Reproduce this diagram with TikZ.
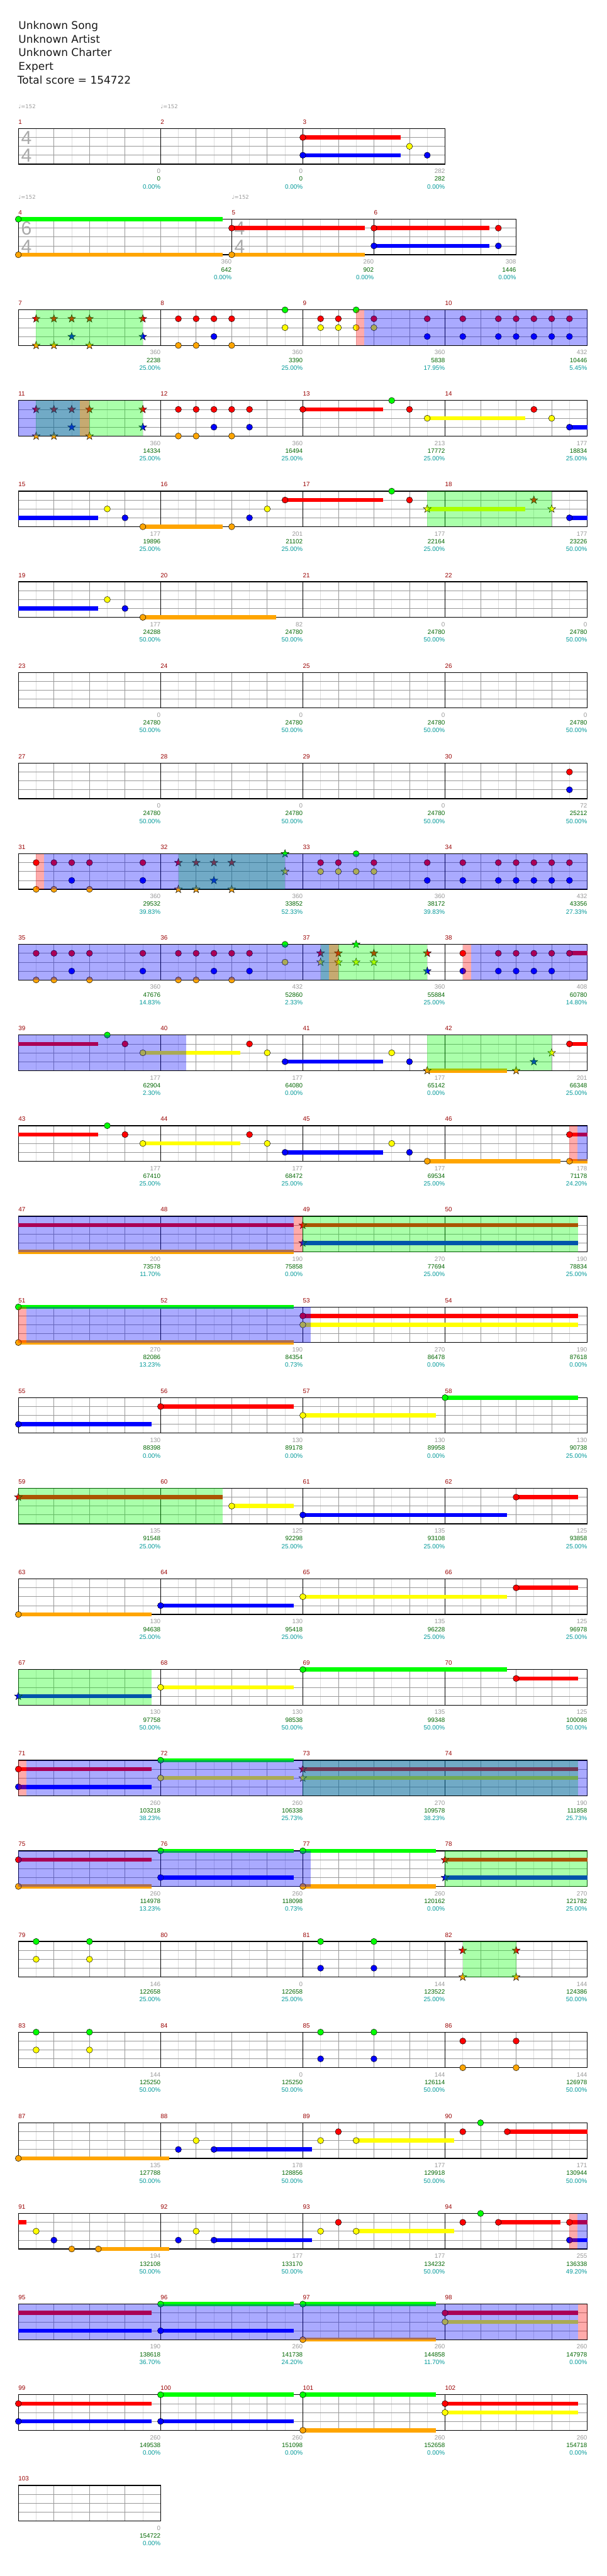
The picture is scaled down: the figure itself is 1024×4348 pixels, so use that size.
\documentclass[tikz,border=0pt]{standalone}
\usepackage{fontspec}
\setmainfont{Liberation Sans}
\newfontfamily\dvs{DejaVu Sans}
\definecolor{gG}{HTML}{00FF00}
\definecolor{gR}{HTML}{FF0000}
\definecolor{gY}{HTML}{FFFF00}
\definecolor{gB}{HTML}{0000FF}
\definecolor{gO}{HTML}{FFA500}
\definecolor{lgr}{HTML}{DDDDDD}
\definecolor{mgr}{HTML}{999999}
\definecolor{mred}{HTML}{990000}
\definecolor{sgreen}{HTML}{006600}
\definecolor{pteal}{HTML}{009999}
\definecolor{tsg}{HTML}{AAAAAA}
\tikzset{
 lgrid/.style={draw=lgr, line width=0.8pt},
 bgrid/.style={draw=mgr, line width=0.8pt},
 mline/.style={draw=black, line width=0.8pt},
 border/.style={draw=black, line width=1.4pt},
 notec/.style={draw=black, line width=0.5pt},
 susbar/.style={line width=7pt},
 cnt/.style={anchor=east, inner sep=0pt, text=mgr, font=\fontsize{10.5}{12}\selectfont},
 scr/.style={anchor=east, inner sep=0pt, text=sgreen, font=\fontsize{10.5}{12}\selectfont},
 pct/.style={anchor=east, inner sep=0pt, text=pteal, font=\fontsize{10.5}{12}\selectfont},
 mnum/.style={anchor=west, inner sep=0pt, text=mred, font=\fontsize{10.5}{12}\selectfont},
 tempo/.style={anchor=west, inner sep=0pt, text=mgr, font=\dvs\fontsize{9}{11}\selectfont},
 tsig/.style={inner sep=0pt, text=tsg, font=\fontsize{32}{34}\selectfont},
 title/.style={anchor=base west, inner sep=0pt, text=black!90, font=\dvs\fontsize{18}{22}\selectfont},
}
\newenvironment{GRow}[1]{\begin{scope}[xshift=31pt,yshift=-\the\numexpr217+153*#1\relax pt,x=60pt,y=-15pt]}{\end{scope}}
\newcommand\GGrid[2]{%
 \pgfmathtruncatemacro\GHn{2*#1}%
 \foreach \i in {1,...,\GHn}{\draw[lgrid] (\i/2,0) -- (\i/2,4);}%
 \foreach \i in {1,...,#1}{\draw[bgrid] (\i,0) -- (\i,4);}%
 \foreach \l in {1,2,3}{\draw[bgrid] (0,\l) -- (#1,\l);}%
 \foreach \m in {#2}{\draw[mline] (\m,0) -- (\m,4);}%
 \draw[border] (0,0) rectangle (#1,4);}
\newcommand\GFour[4]{\GGrid{16}{4,8,12}\GMeas{#1}{0}\GMeas{#2}{4}\GMeas{#3}{8}\GMeas{#4}{12}}
\newcommand\GNote[3]{\draw[notec, fill=#3] (#1,#2) circle[radius=5.2pt];}
\newcommand\GSus[4]{\draw[susbar, draw=#4] (#1,#3) -- (#2,#3);}
\newcommand\GStar[3]{\begin{scope}[shift={(#1,#2)}]\draw[notec, fill=#3] (90:7pt) -- (126:2.8pt) -- (162:7pt) -- (198:2.8pt) -- (234:7pt) -- (270:2.8pt) -- (306:7pt) -- (342:2.8pt) -- (18:7pt) -- (54:2.8pt) -- cycle;\end{scope}}
\newcommand\GOver[3]{\fill[#3, fill opacity=0.333] (#1,0) rectangle (#2,4);}
\newcommand\GMeas[2]{\node[mnum] (m#1) at (#2,-0.74) {#1};}
\newcommand\GLab[5]{\node[cnt] (c#1) at (#2,4.8) {#3};\node[scr] (s#1) at (#2,5.667) {#4};\node[pct] (p#1) at (#2,6.533) {#5\%};}
\newcommand\GTempo[2]{\node[tempo] (tp#1) at (#2,-2.467) {♩=152};}
\newcommand\GTime[4]{\node[tsig] (tsa#1) at (#2+0.225,1.05) {#3};\node[tsig] (tsb#1) at (#2+0.225,3.05) {#4};}
% chord helpers
\newcommand\RO[1]{\GNote{#1}{1}{gR}\GNote{#1}{4}{gO}}
\newcommand\RB[1]{\GNote{#1}{1}{gR}\GNote{#1}{3}{gB}}
\newcommand\RY[1]{\GNote{#1}{1}{gR}\GNote{#1}{2}{gY}}
\newcommand\GYc[1]{\GNote{#1}{0}{gG}\GNote{#1}{2}{gY}}
\newcommand\SRO[1]{\GStar{#1}{1}{gR}\GStar{#1}{4}{gO}}
\newcommand\SRB[1]{\GStar{#1}{1}{gR}\GStar{#1}{3}{gB}}
\newcommand\SRY[1]{\GStar{#1}{1}{gR}\GStar{#1}{2}{gY}}
\begin{document}
\begin{tikzpicture}
\fill[white] (0pt,0pt) rectangle (1024pt,-4348pt);
\useasboundingbox (0pt,0pt) rectangle (1024pt,-4348pt);
\node[title] (t1) at (31pt,-49.3pt) {Unknown Song};
\node[title] (t2) at (31pt,-72.5pt) {Unknown Artist};
\node[title] (t3) at (31pt,-95.5pt) {Unknown Charter};
\node[title] (t4) at (31pt,-118.4pt) {Expert};
\node[title] (t5) at (29.5pt,-141.4pt) {Total score = 154722};
% ---------- row 0
\begin{GRow}{0}
\GGrid{12}{4,8}\GMeas{1}{0}\GMeas{2}{4}\GMeas{3}{8}
\GTempo{1}{0}\GTempo{2}{4}
\GTime{1}{0}{4}{4}
\GSus{8}{10.75}{1}{gR}\GSus{8}{10.75}{3}{gB}
\RB{8}\GNote{11}{2}{gY}\GNote{11.5}{3}{gB}
\GLab{1}{4}{0}{0}{0.00}\GLab{2}{8}{0}{0}{0.00}\GLab{3}{12}{282}{282}{0.00}
\end{GRow}
% ---------- row 1
\begin{GRow}{1}
\GGrid{14}{6,10}\GMeas{4}{0}\GMeas{5}{6}\GMeas{6}{10}
\GTempo{4}{0}\GTempo{5}{6}
\GTime{4}{0}{6}{4}\GTime{5}{6}{4}{4}
\GSus{0}{5.75}{0}{gG}\GSus{0}{5.75}{4}{gO}
\GSus{6}{9.75}{1}{gR}\GSus{6}{9.75}{4}{gO}
\GSus{10}{13.25}{1}{gR}\GSus{10}{13.25}{3}{gB}
\GNote{0}{0}{gG}\GNote{0}{4}{gO}\RO{6}\RB{10}\RB{13.5}
\GLab{4}{6}{360}{642}{0.00}\GLab{5}{10}{260}{902}{0.00}\GLab{6}{14}{308}{1446}{0.00}
\end{GRow}
% ---------- row 2
\begin{GRow}{2}
\GFour{7}{8}{9}{10}
\SRO{0.5}\SRO{1}\SRB{1.5}\SRO{2}\SRB{3.5}
\RO{4.5}\RO{5}\RB{5.5}\RO{6}\GYc{7.5}
\RY{8.5}\RY{9}\GYc{9.5}\RY{10}\RB{11.5}
\RB{12.5}\RB{13.5}\RB{14}\RB{14.5}\RB{15}\RB{15.5}
\GOver{0.5}{3.5}{gG}\GOver{9.5}{9.73}{gR}\GOver{9.73}{16}{gB}
\GLab{7}{4}{360}{2238}{25.00}\GLab{8}{8}{360}{3390}{25.00}\GLab{9}{12}{360}{5838}{17.95}\GLab{10}{16}{432}{10446}{5.45}
\end{GRow}
% ---------- row 3
\begin{GRow}{3}
\GFour{11}{12}{13}{14}
\SRO{0.5}\SRO{1}\SRB{1.5}\SRO{2}\SRB{3.5}
\RO{4.5}\RO{5}\RB{5.5}\RO{6}\RB{6.5}
\GSus{8}{10.25}{1}{gR}\GSus{11.5}{14.25}{2}{gY}\GSus{15.5}{16}{3}{gB}
\GNote{8}{1}{gR}\GNote{10.5}{0}{gG}\GNote{11}{1}{gR}\GNote{11.5}{2}{gY}\GNote{14.5}{1}{gR}\GNote{15}{2}{gY}\GNote{15.5}{3}{gB}
\GOver{0.5}{3.5}{gG}\GOver{0}{1.73}{gB}\GOver{1.73}{2}{gR}
\GLab{11}{4}{360}{14334}{25.00}\GLab{12}{8}{360}{16494}{25.00}\GLab{13}{12}{213}{17772}{25.00}\GLab{14}{16}{177}{18834}{25.00}
\end{GRow}
% ---------- row 4
\begin{GRow}{4}
\GFour{15}{16}{17}{18}
\GSus{0}{2.25}{3}{gB}\GSus{3.5}{5.75}{4}{gO}\GSus{7.5}{10.25}{1}{gR}\GSus{11.5}{14.25}{2}{gY}\GSus{15.5}{16}{3}{gB}
\GNote{2.5}{2}{gY}\GNote{3}{3}{gB}\GNote{3.5}{4}{gO}\GNote{6}{4}{gO}\GNote{6.5}{3}{gB}\GNote{7}{2}{gY}\GNote{7.5}{1}{gR}\GNote{10.5}{0}{gG}\GNote{11}{1}{gR}
\GStar{11.5}{2}{gY}\GStar{14.5}{1}{gR}\GStar{15}{2}{gY}\GNote{15.5}{3}{gB}
\GOver{11.5}{15}{gG}
\GLab{15}{4}{177}{19896}{25.00}\GLab{16}{8}{201}{21102}{25.00}\GLab{17}{12}{177}{22164}{25.00}\GLab{18}{16}{177}{23226}{50.00}
\end{GRow}
% ---------- row 5
\begin{GRow}{5}
\GFour{19}{20}{21}{22}
\GSus{0}{2.25}{3}{gB}\GSus{3.5}{7.25}{4}{gO}
\GNote{2.5}{2}{gY}\GNote{3}{3}{gB}\GNote{3.5}{4}{gO}
\GLab{19}{4}{177}{24288}{50.00}\GLab{20}{8}{82}{24780}{50.00}\GLab{21}{12}{0}{24780}{50.00}\GLab{22}{16}{0}{24780}{50.00}
\end{GRow}
% ---------- row 6
\begin{GRow}{6}
\GFour{23}{24}{25}{26}
\GLab{23}{4}{0}{24780}{50.00}\GLab{24}{8}{0}{24780}{50.00}\GLab{25}{12}{0}{24780}{50.00}\GLab{26}{16}{0}{24780}{50.00}
\end{GRow}
% ---------- row 7
\begin{GRow}{7}
\GFour{27}{28}{29}{30}
\RB{15.5}
\GLab{27}{4}{0}{24780}{50.00}\GLab{28}{8}{0}{24780}{50.00}\GLab{29}{12}{0}{24780}{50.00}\GLab{30}{16}{72}{25212}{50.00}
\end{GRow}
% ---------- row 8
\begin{GRow}{8}
\GFour{31}{32}{33}{34}
\RO{0.5}\RO{1}\RB{1.5}\RO{2}\RB{3.5}
\SRO{4.5}\SRO{5}\SRB{5.5}\SRO{6}\GStar{7.5}{0}{gG}\GStar{7.5}{2}{gY}
\RY{8.5}\RY{9}\GYc{9.5}\RY{10}\RB{11.5}
\RB{12.5}\RB{13.5}\RB{14}\RB{14.5}\RB{15}\RB{15.5}
\GOver{4.5}{7.5}{gG}\GOver{0.5}{0.73}{gR}\GOver{0.73}{16}{gB}
\GLab{31}{4}{360}{29532}{39.83}\GLab{32}{8}{360}{33852}{52.33}\GLab{33}{12}{360}{38172}{39.83}\GLab{34}{16}{432}{43356}{27.33}
\end{GRow}
% ---------- row 9
\begin{GRow}{9}
\GFour{35}{36}{37}{38}
\RO{0.5}\RO{1}\RB{1.5}\RO{2}\RB{3.5}
\RO{4.5}\RO{5}\RB{5.5}\RO{6}\RB{6.5}\GYc{7.5}
\SRY{8.5}\SRY{9}\GStar{9.5}{0}{gG}\GStar{9.5}{2}{gY}\SRY{10}\SRB{11.5}
\GSus{15.5}{16}{1}{gR}
\RB{12.5}\RB{13.5}\RB{14}\RB{14.5}\RB{15}\GNote{15.5}{1}{gR}
\GOver{8.5}{11.5}{gG}\GOver{0}{8.73}{gB}\GOver{8.73}{9}{gR}\GOver{12.5}{12.73}{gR}\GOver{12.73}{16}{gB}
\GLab{35}{4}{360}{47676}{14.83}\GLab{36}{8}{432}{52860}{2.33}\GLab{37}{12}{360}{55884}{25.00}\GLab{38}{16}{408}{60780}{14.80}
\end{GRow}
% ---------- row 10
\begin{GRow}{10}
\GFour{39}{40}{41}{42}
\GSus{0}{2.25}{1}{gR}\GSus{3.5}{6.25}{2}{gY}\GSus{7.5}{10.25}{3}{gB}\GSus{11.5}{13.75}{4}{gO}\GSus{15.5}{16}{1}{gR}
\GNote{2.5}{0}{gG}\GNote{3}{1}{gR}\GNote{3.5}{2}{gY}\GNote{6.5}{1}{gR}\GNote{7}{2}{gY}\GNote{7.5}{3}{gB}\GNote{10.5}{2}{gY}\GNote{11}{3}{gB}
\GStar{11.5}{4}{gO}\GStar{14}{4}{gO}\GStar{14.5}{3}{gB}\GStar{15}{2}{gY}\GNote{15.5}{1}{gR}
\GOver{0}{4.72}{gB}\GOver{11.5}{15}{gG}
\GLab{39}{4}{177}{62904}{2.30}\GLab{40}{8}{177}{64080}{0.00}\GLab{41}{12}{177}{65142}{0.00}\GLab{42}{16}{201}{66348}{25.00}
\end{GRow}
% ---------- row 11
\begin{GRow}{11}
\GFour{43}{44}{45}{46}
\GSus{0}{2.25}{1}{gR}\GSus{3.5}{6.25}{2}{gY}\GSus{7.5}{10.25}{3}{gB}\GSus{11.5}{15.25}{4}{gO}\GSus{15.5}{16}{1}{gR}\GSus{15.5}{16}{4}{gO}
\GNote{2.5}{0}{gG}\GNote{3}{1}{gR}\GNote{3.5}{2}{gY}\GNote{6.5}{1}{gR}\GNote{7}{2}{gY}\GNote{7.5}{3}{gB}\GNote{10.5}{2}{gY}\GNote{11}{3}{gB}\GNote{11.5}{4}{gO}\RO{15.5}
\GOver{15.5}{15.73}{gR}\GOver{15.73}{16}{gB}
\GLab{43}{4}{177}{67410}{25.00}\GLab{44}{8}{177}{68472}{25.00}\GLab{45}{12}{177}{69534}{25.00}\GLab{46}{16}{178}{71178}{24.20}
\end{GRow}
% ---------- row 12
\begin{GRow}{12}
\GFour{47}{48}{49}{50}
\GSus{0}{7.75}{1}{gR}\GSus{0}{7.75}{4}{gO}\GSus{8}{15.75}{1}{gR}\GSus{8}{15.75}{3}{gB}
\SRB{8}
\GOver{8}{15.75}{gG}\GOver{0}{7.75}{gB}\GOver{7.75}{8}{gR}
\GLab{47}{4}{200}{73578}{11.70}\GLab{48}{8}{190}{75858}{0.00}\GLab{49}{12}{270}{77694}{25.00}\GLab{50}{16}{190}{78834}{25.00}
\end{GRow}
% ---------- row 13
\begin{GRow}{13}
\GFour{51}{52}{53}{54}
\GSus{0}{7.75}{0}{gG}\GSus{0}{7.75}{4}{gO}\GSus{8}{15.75}{1}{gR}\GSus{8}{15.75}{2}{gY}
\GNote{0}{0}{gG}\GNote{0}{4}{gO}\RY{8}
\GOver{0}{0.23}{gR}\GOver{0.23}{8.23}{gB}
\GLab{51}{4}{270}{82086}{13.23}\GLab{52}{8}{190}{84354}{0.73}\GLab{53}{12}{270}{86478}{0.00}\GLab{54}{16}{190}{87618}{0.00}
\end{GRow}
% ---------- row 14
\begin{GRow}{14}
\GFour{55}{56}{57}{58}
\GSus{0}{3.75}{3}{gB}\GSus{4}{7.75}{1}{gR}\GSus{8}{11.75}{2}{gY}\GSus{12}{15.75}{0}{gG}
\GNote{0}{3}{gB}\GNote{4}{1}{gR}\GNote{8}{2}{gY}\GNote{12}{0}{gG}
\GLab{55}{4}{130}{88398}{0.00}\GLab{56}{8}{130}{89178}{0.00}\GLab{57}{12}{130}{89958}{0.00}\GLab{58}{16}{130}{90738}{25.00}
\end{GRow}
% ---------- row 15
\begin{GRow}{15}
\GFour{59}{60}{61}{62}
\GSus{0}{5.75}{1}{gR}\GSus{6}{7.75}{2}{gY}\GSus{8}{13.75}{3}{gB}\GSus{14}{15.75}{1}{gR}
\GStar{0}{1}{gR}\GNote{6}{2}{gY}\GNote{8}{3}{gB}\GNote{14}{1}{gR}
\GOver{0}{5.75}{gG}
\GLab{59}{4}{135}{91548}{25.00}\GLab{60}{8}{125}{92298}{25.00}\GLab{61}{12}{135}{93108}{25.00}\GLab{62}{16}{125}{93858}{25.00}
\end{GRow}
% ---------- row 16
\begin{GRow}{16}
\GFour{63}{64}{65}{66}
\GSus{0}{3.75}{4}{gO}\GSus{4}{7.75}{3}{gB}\GSus{8}{13.75}{2}{gY}\GSus{14}{15.75}{1}{gR}
\GNote{0}{4}{gO}\GNote{4}{3}{gB}\GNote{8}{2}{gY}\GNote{14}{1}{gR}
\GLab{63}{4}{130}{94638}{25.00}\GLab{64}{8}{130}{95418}{25.00}\GLab{65}{12}{135}{96228}{25.00}\GLab{66}{16}{125}{96978}{25.00}
\end{GRow}
% ---------- row 17
\begin{GRow}{17}
\GFour{67}{68}{69}{70}
\GSus{0}{3.75}{3}{gB}\GSus{4}{7.75}{2}{gY}\GSus{8}{13.75}{0}{gG}\GSus{14}{15.75}{1}{gR}
\GStar{0}{3}{gB}\GNote{4}{2}{gY}\GNote{8}{0}{gG}\GNote{14}{1}{gR}
\GOver{0}{3.75}{gG}
\GLab{67}{4}{130}{97758}{50.00}\GLab{68}{8}{130}{98538}{50.00}\GLab{69}{12}{135}{99348}{50.00}\GLab{70}{16}{125}{100098}{50.00}
\end{GRow}
% ---------- row 18
\begin{GRow}{18}
\GFour{71}{72}{73}{74}
\GSus{0}{3.75}{1}{gR}\GSus{0}{3.75}{3}{gB}\GSus{4}{7.75}{0}{gG}\GSus{4}{7.75}{2}{gY}\GSus{8}{15.75}{1}{gR}\GSus{8}{15.75}{2}{gY}
\RB{0}\GYc{4}\SRY{8}
\GOver{8}{15.75}{gG}\GOver{0}{0.23}{gR}\GOver{0.23}{16}{gB}
\GLab{71}{4}{260}{103218}{38.23}\GLab{72}{8}{260}{106338}{25.73}\GLab{73}{12}{270}{109578}{38.23}\GLab{74}{16}{190}{111858}{25.73}
\end{GRow}
% ---------- row 19
\begin{GRow}{19}
\GFour{75}{76}{77}{78}
\GSus{0}{3.75}{1}{gR}\GSus{0}{3.75}{4}{gO}\GSus{4}{7.75}{0}{gG}\GSus{4}{7.75}{3}{gB}\GSus{8}{11.75}{0}{gG}\GSus{8}{11.75}{4}{gO}\GSus{12}{16}{1}{gR}\GSus{12}{16}{3}{gB}
\RO{0}\GNote{4}{0}{gG}\GNote{4}{3}{gB}\GNote{8}{0}{gG}\GNote{8}{4}{gO}\SRB{12}
\GOver{12}{16}{gG}\GOver{0}{8.23}{gB}
\GLab{75}{4}{260}{114978}{13.23}\GLab{76}{8}{260}{118098}{0.73}\GLab{77}{12}{260}{120162}{0.00}\GLab{78}{16}{270}{121782}{25.00}
\end{GRow}
% ---------- row 20
\begin{GRow}{20}
\GFour{79}{80}{81}{82}
\GYc{0.5}\GYc{2}
\GNote{8.5}{0}{gG}\GNote{8.5}{3}{gB}\GNote{10}{0}{gG}\GNote{10}{3}{gB}
\SRO{12.5}\SRO{14}
\GOver{12.5}{14}{gG}
\GLab{79}{4}{146}{122658}{25.00}\GLab{80}{8}{0}{122658}{25.00}\GLab{81}{12}{144}{123522}{25.00}\GLab{82}{16}{144}{124386}{50.00}
\end{GRow}
% ---------- row 21
\begin{GRow}{21}
\GFour{83}{84}{85}{86}
\GYc{0.5}\GYc{2}
\GNote{8.5}{0}{gG}\GNote{8.5}{3}{gB}\GNote{10}{0}{gG}\GNote{10}{3}{gB}
\RO{12.5}\RO{14}
\GLab{83}{4}{144}{125250}{50.00}\GLab{84}{8}{0}{125250}{50.00}\GLab{85}{12}{144}{126114}{50.00}\GLab{86}{16}{144}{126978}{50.00}
\end{GRow}
% ---------- row 22
\begin{GRow}{22}
\GFour{87}{88}{89}{90}
\GSus{0}{4.25}{4}{gO}\GSus{5.5}{8.25}{3}{gB}\GSus{9.5}{12.25}{2}{gY}\GSus{13.75}{16}{1}{gR}
\GNote{0}{4}{gO}\GNote{4.5}{3}{gB}\GNote{5}{2}{gY}\GNote{5.5}{3}{gB}\GNote{8.5}{2}{gY}\GNote{9}{1}{gR}\GNote{9.5}{2}{gY}\GNote{12.5}{1}{gR}\GNote{13}{0}{gG}\GNote{13.75}{1}{gR}
\GLab{87}{4}{135}{127788}{50.00}\GLab{88}{8}{178}{128856}{50.00}\GLab{89}{12}{177}{129918}{50.00}\GLab{90}{16}{171}{130944}{50.00}
\end{GRow}
% ---------- row 23
\begin{GRow}{23}
\GFour{91}{92}{93}{94}
\GSus{0}{0.23}{1}{gR}\GSus{2.25}{4.25}{4}{gO}\GSus{5.5}{8.25}{3}{gB}\GSus{9.5}{12.25}{2}{gY}\GSus{13.5}{15.25}{1}{gR}\GSus{15.5}{16}{1}{gR}\GSus{15.5}{16}{3}{gB}
\GNote{0.5}{2}{gY}\GNote{1}{3}{gB}\GNote{1.5}{4}{gO}\GNote{2.25}{4}{gO}\GNote{4.5}{3}{gB}\GNote{5}{2}{gY}\GNote{5.5}{3}{gB}\GNote{8.5}{2}{gY}\GNote{9}{1}{gR}\GNote{9.5}{2}{gY}\GNote{12.5}{1}{gR}\GNote{13}{0}{gG}\GNote{13.5}{1}{gR}\RB{15.5}
\GOver{15.5}{15.73}{gR}\GOver{15.73}{16}{gB}
\GLab{91}{4}{194}{132108}{50.00}\GLab{92}{8}{177}{133170}{50.00}\GLab{93}{12}{177}{134232}{50.00}\GLab{94}{16}{255}{136338}{49.20}
\end{GRow}
% ---------- row 24
\begin{GRow}{24}
\GFour{95}{96}{97}{98}
\GSus{0}{3.75}{1}{gR}\GSus{0}{3.75}{3}{gB}\GSus{4}{7.75}{0}{gG}\GSus{4}{7.75}{3}{gB}\GSus{8}{11.75}{0}{gG}\GSus{8}{11.75}{4}{gO}\GSus{12}{15.75}{1}{gR}\GSus{12}{15.75}{2}{gY}
\GNote{4}{0}{gG}\GNote{4}{3}{gB}\GNote{8}{0}{gG}\GNote{8}{4}{gO}\RY{12}
\GOver{0}{15.75}{gB}\GOver{15.75}{16}{gR}
\GLab{95}{4}{190}{138618}{36.70}\GLab{96}{8}{260}{141738}{24.20}\GLab{97}{12}{260}{144858}{11.70}\GLab{98}{16}{260}{147978}{0.00}
\end{GRow}
% ---------- row 25
\begin{GRow}{25}
\GFour{99}{100}{101}{102}
\GSus{0}{3.75}{1}{gR}\GSus{0}{3.75}{3}{gB}\GSus{4}{7.75}{0}{gG}\GSus{4}{7.75}{3}{gB}\GSus{8}{11.75}{0}{gG}\GSus{8}{11.75}{4}{gO}\GSus{12}{15.75}{1}{gR}\GSus{12}{15.75}{2}{gY}
\RB{0}\GNote{4}{0}{gG}\GNote{4}{3}{gB}\GNote{8}{0}{gG}\GNote{8}{4}{gO}\RY{12}
\GLab{99}{4}{260}{149538}{0.00}\GLab{100}{8}{260}{151098}{0.00}\GLab{101}{12}{260}{152658}{0.00}\GLab{102}{16}{260}{154718}{0.00}
\end{GRow}
% ---------- row 26
\begin{GRow}{26}
\GGrid{4}{0}\GMeas{103}{0}
\GLab{103}{4}{0}{154722}{0.00}
\end{GRow}
\end{tikzpicture}
\end{document}
